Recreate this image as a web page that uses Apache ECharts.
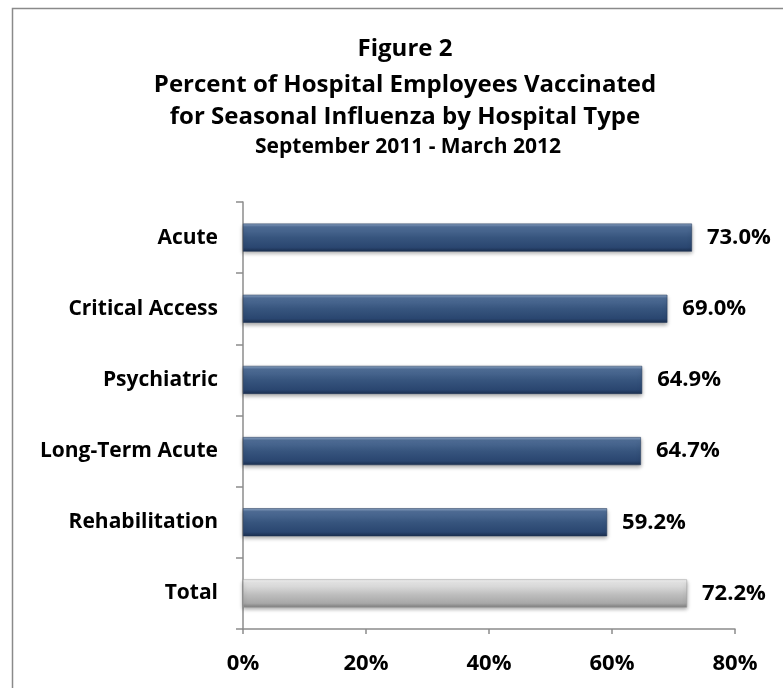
<!DOCTYPE html>
<html>
<head>
<meta charset="utf-8">
<script src="https://cdn.jsdelivr.net/npm/echarts@6/dist/echarts.min.js"></script>
<style>
  html, body { margin: 0; padding: 0; background: #fff; }
  #chart { width: 783px; height: 688px; }
</style>
</head>
<body>
<div id="chart"></div>
<script>
// data
var categories = ['Acute', 'Critical Access', 'Psychiatric', 'Long-Term Acute', 'Rehabilitation', 'Total'];
var values = [73.0, 69.0, 64.9, 64.7, 59.2, 72.2];
var totalName = 'Total';
var xTicks = [0, 20, 40, 60, 80];

var FONT = '"Open Sans", sans-serif';

var blueFill = new echarts.graphic.LinearGradient(0, 0, 0, 1, [
  { offset: 0, color: '#8ea6c6' },
  { offset: 0.12, color: '#4f6d96' },
  { offset: 0.5, color: '#37557e' },
  { offset: 0.85, color: '#2a4670' },
  { offset: 1, color: '#1b2f4f' }
]);
var grayFill = new echarts.graphic.LinearGradient(0, 0, 0, 1, [
  { offset: 0, color: '#f4f4f4' },
  { offset: 0.15, color: '#e2e2e2' },
  { offset: 0.55, color: '#bdbdbd' },
  { offset: 0.85, color: '#a8a8a8' },
  { offset: 1, color: '#7e7e7e' }
]);

var chart = echarts.init(document.getElementById('chart'));
var option = {
  animation: false,
  graphic: [{
    type: 'rect',
    shape: { x: 12.5, y: 8.5, width: 800, height: 700 },
    style: { fill: 'none', stroke: '#8a8a8a', lineWidth: 1.5 },
    silent: true
  }],
  title: [
    { text: 'Figure 2', left: 400, top: 32, textAlign: 'center',
      textStyle: { fontFamily: FONT, fontSize: 24, fontWeight: 'bold', color: '#000' } },
    { text: 'Percent of Hospital Employees Vaccinated', left: 400, top: 68, textAlign: 'center',
      textStyle: { fontFamily: FONT, fontSize: 24, fontWeight: 'bold', color: '#000' } },
    { text: 'for Seasonal Influenza by Hospital Type', left: 400, top: 100, textAlign: 'center',
      textStyle: { fontFamily: FONT, fontSize: 24, fontWeight: 'bold', color: '#000' } },
    { text: 'September 2011 - March 2012', left: 403, top: 132, textAlign: 'center',
      textStyle: { fontFamily: FONT, fontSize: 21, fontWeight: 'bold', color: '#000' } }
  ],
  grid: { left: 243, right: 48, top: 202, bottom: 59 },
  xAxis: {
    type: 'value',
    min: xTicks[0],
    max: xTicks[xTicks.length - 1],
    interval: 20,
    axisLine: { show: true, lineStyle: { color: '#8c8c8c', width: 1.5 } },
    axisTick: { show: true, length: 5, lineStyle: { color: '#8c8c8c', width: 1.5 } },
    splitLine: { show: false },
    axisLabel: {
      margin: 24,
      formatter: '{value}%',
      fontFamily: FONT, fontSize: 22, fontWeight: 'bold', color: '#000'
    }
  },
  yAxis: {
    type: 'category',
    data: categories,
    inverse: true,
    axisLine: { show: true, lineStyle: { color: '#8c8c8c', width: 1.5 } },
    axisTick: { show: true, length: 7, lineStyle: { color: '#8c8c8c', width: 1.5 } },
    axisLabel: {
      margin: 25,
      fontFamily: FONT, fontSize: 21, fontWeight: 'bold', color: '#000'
    }
  },
  series: [{
    type: 'bar',
    barWidth: 28,
    data: categories.map(function (c, i) {
      return {
        value: values[i],
        itemStyle: {
          color: c === totalName ? grayFill : blueFill,
          borderColor: c === totalName ? '#9a9a9a' : '#1f3556',
          borderWidth: 0.5,
          shadowColor: 'rgba(0,0,0,0.35)',
          shadowBlur: 4,
          shadowOffsetY: 2
        }
      };
    }),
    label: {
      show: true,
      position: 'right',
      distance: 15,
      formatter: function (p) { return p.value.toFixed(1) + '%'; },
      fontFamily: FONT, fontSize: 22, fontWeight: 'bold', color: '#000'
    }
  }]
};
chart.setOption(option);
</script>
</body>
</html>
